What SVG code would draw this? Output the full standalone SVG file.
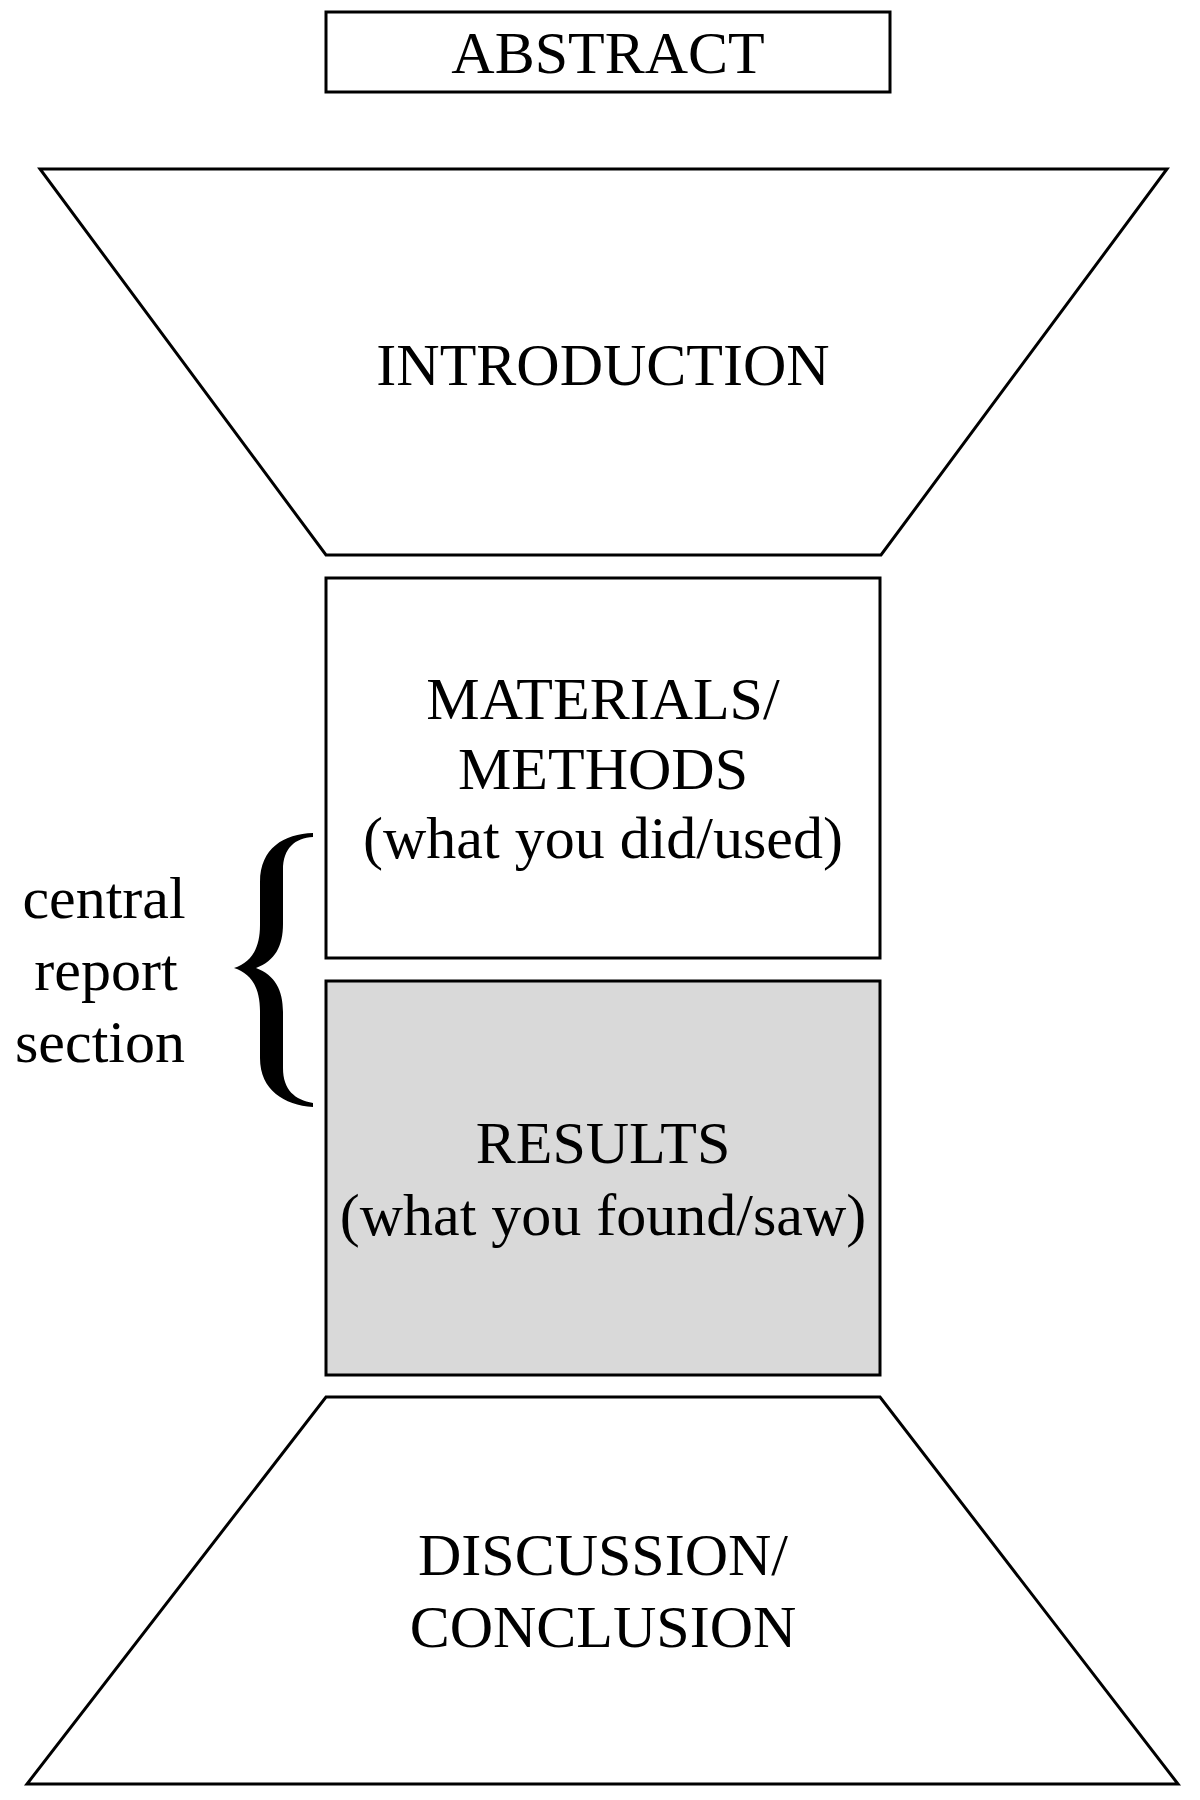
<svg xmlns="http://www.w3.org/2000/svg" width="1200" height="1800" viewBox="0 0 1200 1800">
<style>
.shape{fill:#ffffff;stroke:#000000;stroke-width:3;stroke-linejoin:miter}
.gray{fill:#d9d9d9}
.t{font-family:"Liberation Serif","Times New Roman",serif;font-size:60px;fill:#000000;text-anchor:middle}
</style>
<rect width="1200" height="1800" fill="#ffffff"/>
<g id="abstract">
<rect class="shape" x="326" y="12" width="564" height="80"/>
<text class="t" x="608" y="73">ABSTRACT</text>
</g>
<g id="introduction">
<polygon class="shape" points="40,169 1167,169 881,555 326,555"/>
<text class="t" x="603" y="385">INTRODUCTION</text>
</g>
<g id="materials">
<rect class="shape" x="326" y="578" width="554" height="380"/>
<text class="t" x="603" y="719">MATERIALS/</text>
<text class="t" x="603" y="789">METHODS</text>
<text class="t" x="603" y="858">(what you did/used)</text>
</g>
<g id="results">
<rect class="shape gray" x="326" y="981" width="554" height="394"/>
<text class="t" x="603" y="1163">RESULTS</text>
<text class="t" x="603" y="1235">(what you found/saw)</text>
</g>
<g id="discussion">
<polygon class="shape" points="326,1397 880,1397 1178,1784 27,1784"/>
<text class="t" x="603" y="1575">DISCUSSION/</text>
<text class="t" x="603" y="1647">CONCLUSION</text>
</g>
<g id="central-section">
<path d="M313,833 C284,834 260,848 260,882 L260,925 C260,950 250,963 234,968 C250,973 260,986 260,1011 L260,1058 C260,1090 284,1105 313,1107 L313,1103 C295,1100 283,1090 283,1068 L283,1012 C283,990 275,975 256,968 C275,961 283,946 283,924 L283,870 C283,848 295,838 313,837 Z" fill="#000000"/>
<text class="t" x="104" y="918">central</text>
<text class="t" x="106" y="990">report</text>
<text class="t" x="100" y="1062">section</text>
</g>
<g id="connectors"></g>
</svg>
